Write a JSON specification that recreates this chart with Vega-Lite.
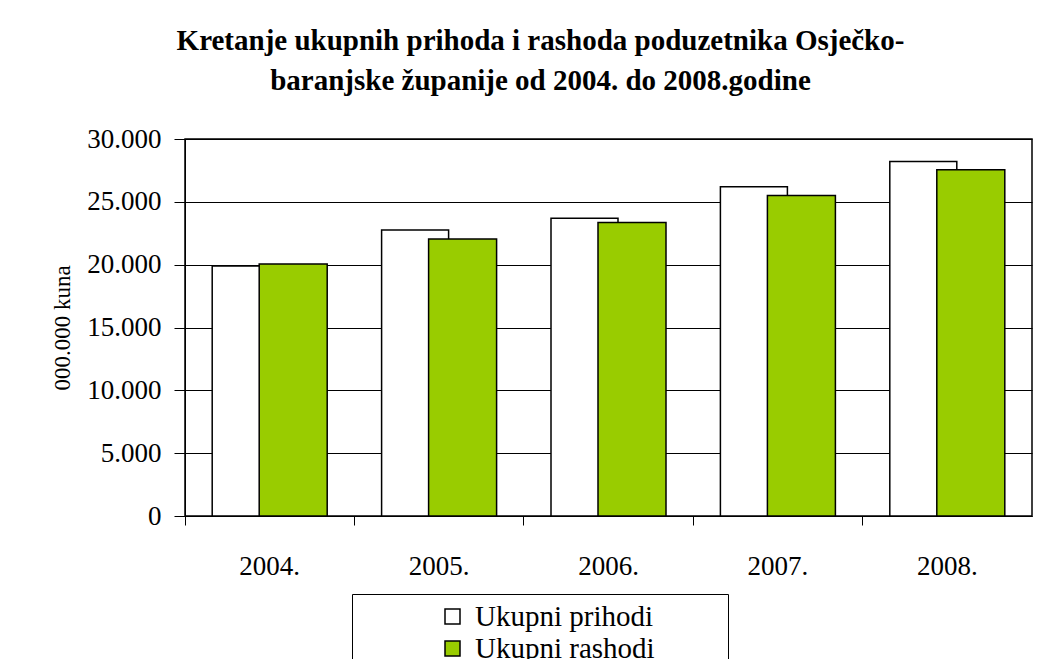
{
  "$schema": "https://vega.github.io/schema/vega-lite/v6.json",
  "autosize": {"type": "none"},
  "width": 847,
  "height": 377,
  "padding": {"left": 185, "top": 139, "right": 13, "bottom": 143},
  "background": "white",
  "title": {
    "text": ["Kretanje ukupnih prihoda i rashoda poduzetnika Osječko-", "baranjske županije od 2004. do 2008.godine"],
    "font": "Times New Roman, Liberation Serif, serif",
    "fontSize": 29,
    "fontWeight": "bold",
    "lineHeight": 40,
    "anchor": "middle",
    "dx": -68,
    "offset": 29,
    "color": "black"
  },
  "data": {
    "values": [
      {"year": "2004.", "series": "Ukupni prihodi", "value": 19900},
      {"year": "2004.", "series": "Ukupni rashodi", "value": 20050},
      {"year": "2005.", "series": "Ukupni prihodi", "value": 22750},
      {"year": "2005.", "series": "Ukupni rashodi", "value": 22050},
      {"year": "2006.", "series": "Ukupni prihodi", "value": 23700},
      {"year": "2006.", "series": "Ukupni rashodi", "value": 23350},
      {"year": "2007.", "series": "Ukupni prihodi", "value": 26200},
      {"year": "2007.", "series": "Ukupni rashodi", "value": 25500},
      {"year": "2008.", "series": "Ukupni prihodi", "value": 28200},
      {"year": "2008.", "series": "Ukupni rashodi", "value": 27550}
    ]
  },
  "encoding": {
    "x": {
      "field": "year",
      "type": "nominal",
      "sort": null,
      "scale": {"paddingInner": 0, "paddingOuter": 0},
      "axis": {
        "title": null,
        "labelAngle": 0,
        "labelFont": "Times New Roman, Liberation Serif, serif",
        "labelFontSize": 27,
        "labelColor": "black",
        "labelPadding": 28,
        "tickSize": 9,
        "tickColor": "black",
        "bandPosition": 0,
        "domainColor": "black",
        "grid": false
      }
    },
    "y": {
      "field": "value",
      "type": "quantitative",
      "scale": {"domain": [0, 30000], "nice": false},
      "axis": {
        "title": "000.000 kuna",
        "titleFont": "Times New Roman, Liberation Serif, serif",
        "titleFontSize": 23,
        "titleFontWeight": "normal",
        "titleColor": "black",
        "titlePadding": 12,
        "values": [0, 5000, 10000, 15000, 20000, 25000, 30000],
        "labelExpr": "replace(format(datum.value, ','), ',', '.')",
        "labelFont": "Times New Roman, Liberation Serif, serif",
        "labelFontSize": 27,
        "labelColor": "black",
        "labelPadding": 13,
        "tickSize": 11,
        "tickColor": "black",
        "domainColor": "black",
        "grid": true,
        "gridColor": "black",
        "gridWidth": 1
      }
    },
    "color": {
      "field": "series",
      "type": "nominal",
      "scale": {"domain": ["Ukupni prihodi", "Ukupni rashodi"], "range": ["#FFFFFF", "#99CC00"]},
      "legend": {
        "title": null,
        "orient": "none",
        "legendX": 167,
        "legendY": 455,
        "direction": "vertical",
        "strokeColor": "black",
        "fillColor": "white",
        "padding": 8,
        "symbolType": "square",
        "symbolSize": 225,
        "symbolStrokeColor": "black",
        "symbolStrokeWidth": 1.5,
        "symbolOpacity": 1,
        "symbolOffset": 78,
        "labelFont": "Times New Roman, Liberation Serif, serif",
        "labelFontSize": 29,
        "labelColor": "black",
        "labelLimit": 500,
        "labelOffset": 8,
        "labelExpr": "datum.label + '\u00a0\u00a0\u00a0\u00a0\u00a0\u00a0\u00a0\u00a0\u00a0\u200b'",
        "rowPadding": 2
      }
    }
  },
  "layer": [
    {
      "transform": [{"filter": "datum.series === 'Ukupni prihodi'"}],
      "mark": {"type": "bar", "width": 67, "xOffset": -24, "stroke": "black", "strokeWidth": 1.5}
    },
    {
      "transform": [{"filter": "datum.series === 'Ukupni rashodi'"}],
      "mark": {"type": "bar", "width": 68, "xOffset": 23.5, "stroke": "black", "strokeWidth": 1.5}
    }
  ],
  "config": {
    "font": "Times New Roman, Liberation Serif, serif",
    "view": {"stroke": "black", "strokeWidth": 1.5},
    "bar": {"opacity": 1}
  }
}
